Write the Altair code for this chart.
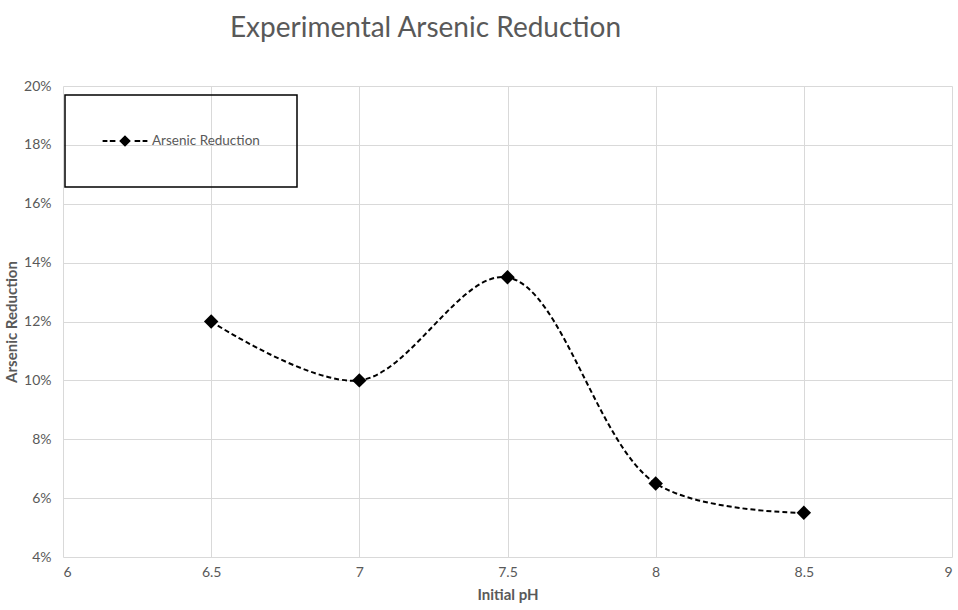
import altair as alt
import pandas as pd

ph = [6.5, 7.0, 7.5, 8.0, 8.5]
reduction = [0.12, 0.10, 0.135, 0.065, 0.055]
series = ["Arsenic Reduction"] * len(ph)

df = pd.DataFrame({"ph": ph, "reduction": reduction, "series": series})

x_ticks = [6, 6.5, 7, 7.5, 8, 8.5, 9]
y_ticks = [0.04, 0.06, 0.08, 0.10, 0.12, 0.14, 0.16, 0.18, 0.20]

FONT = "Lato"
GREY = "#595959"

legend_path = ("M-2.8,0H-2.2M-1.9,0H-1.2M1.2,0H1.9M2.2,0H2.8"
               "M0,-0.55L0.55,0L0,0.55L-0.55,0Z")

x = alt.X("ph:Q", title="Initial pH",
          scale=alt.Scale(domain=[6, 9], nice=False),
          axis=alt.Axis(values=x_ticks, format=".1~f", labelPadding=8,
                        titlePadding=8))
y = alt.Y("reduction:Q", title="Arsenic Reduction",
          scale=alt.Scale(domain=[0.04, 0.20], nice=False, zero=False),
          axis=alt.Axis(values=y_ticks, format=".0%", labelPadding=12,
                        titlePadding=4))

line = alt.Chart(df).mark_line(
    interpolate="catmull-rom", color="black", strokeWidth=2,
    strokeDash=[5, 3]
).encode(x=x, y=y)

points = alt.Chart(df).mark_point(
    shape="diamond", filled=True, size=210, opacity=1
).encode(
    x=x, y=y,
    color=alt.Color("series:N", scale=alt.Scale(range=["black"]),
                    legend=alt.Legend(
                        title=None, orient="none", legendX=2, legendY=9,
                        symbolType=legend_path, symbolSize=256,
                        symbolStrokeColor="black", symbolStrokeWidth=2,
                        symbolFillColor="black", symbolOffset=14,
                        labelOffset=18, labelFont=FONT, labelFontSize=13.5,
                        labelColor=GREY, padding=37, strokeColor="black"))
)

chart = (line + points).properties(
    width=889, height=471,
    autosize=alt.AutoSizeParams(type="none"),
    padding={"left": 63, "top": 86, "right": 6, "bottom": 53},
    title=alt.TitleParams("Experimental Arsenic Reduction", font=FONT,
                          fontSize=28, fontWeight="normal", color=GREY,
                          anchor="middle", frame="group", dx=-82,
                          offset=14, baseline="alphabetic"),
).configure_view(stroke=None).configure_axis(
    grid=True, gridColor="#d9d9d9", gridWidth=1, domain=False, ticks=False,
    labelFont=FONT, labelFontSize=14, labelColor=GREY,
    titleFont=FONT, titleFontSize=15, titleColor=GREY, titleFontWeight="bold"
).configure_legend(strokeWidth=1.5)

chart.save("out.html", embed_options={"renderer": "svg", "actions": False})
